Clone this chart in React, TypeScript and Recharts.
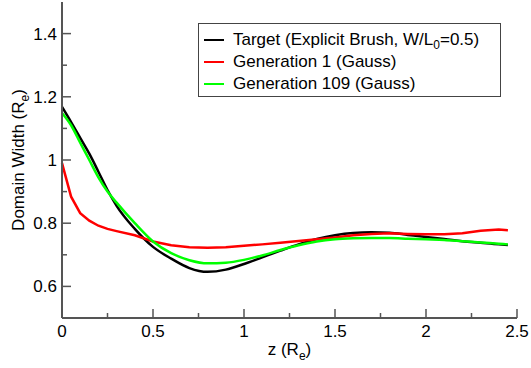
import React from "react";
import { LineChart, Line, XAxis, YAxis } from "recharts";

// domain width profiles along z (R_e)
const Z = [0, 0.05, 0.1, 0.15, 0.2, 0.25, 0.3, 0.4, 0.5, 0.6, 0.7, 0.8, 0.9, 1.0, 1.1, 1.2, 1.3, 1.4, 1.5, 1.6, 1.7, 1.8, 1.9, 2.0, 2.1, 2.2, 2.3, 2.4, 2.45];
const TARGET = [1.168, 1.12, 1.07, 1.02, 0.963, 0.905, 0.855, 0.782, 0.725, 0.688, 0.658, 0.646, 0.653, 0.671, 0.692, 0.713, 0.733, 0.75, 0.762, 0.769, 0.771, 0.77, 0.763, 0.756, 0.75, 0.743, 0.738, 0.733, 0.731];
const GEN1 = [0.99, 0.884, 0.832, 0.808, 0.792, 0.782, 0.775, 0.762, 0.742, 0.73, 0.724, 0.722, 0.724, 0.729, 0.733, 0.738, 0.744, 0.749, 0.755, 0.762, 0.766, 0.768, 0.766, 0.765, 0.765, 0.768, 0.776, 0.78, 0.778];
const GEN109 = [1.149, 1.11, 1.055, 1.0, 0.945, 0.9, 0.865, 0.8, 0.742, 0.705, 0.683, 0.673, 0.675, 0.684, 0.698, 0.715, 0.73, 0.742, 0.749, 0.752, 0.753, 0.753, 0.751, 0.749, 0.747, 0.743, 0.739, 0.735, 0.733];

const X_TICKS = [0, 0.25, 0.5, 0.75, 1, 1.25, 1.5, 1.75, 2, 2.25, 2.5];
const Y_TICKS = [0.6, 0.7, 0.8, 0.9, 1, 1.1, 1.2, 1.3, 1.4];

const LEGEND = [
  { key: "target", color: "#000000" },
  { key: "gen1", color: "#ff0000", label: "Generation 1 (Gauss)" },
  { key: "gen109", color: "#00ff00", label: "Generation 109 (Gauss)" },
];

const data = Z.map((z, i) => ({ z, target: TARGET[i], gen1: GEN1[i], gen109: GEN109[i] }));

// no serif faces in the sandbox, so a sans at a size that keeps the widths
const FONT = '"Liberation Sans", Arial, sans-serif';
const FS = 17;
const FRAME = "#555";

const isMajorX = (v: number) => Math.round(v * 4) % 2 === 0;
const isMajorY = (v: number) => Math.round(v * 10) % 2 === 0;

function BottomTick({ x, y, payload }: any) {
  const major = isMajorX(payload.value);
  return (
    <g>
      <line x1={x} x2={x} y1={y} y2={y - (major ? 9 : 5)} stroke={FRAME} strokeWidth={1.5} />
      {major && (
        <text x={x} y={y + 19} textAnchor="middle" fontFamily={FONT} fontSize={FS} fill="#000">
          {String(payload.value)}
        </text>
      )}
    </g>
  );
}

function TopTick({ x, y, payload }: any) {
  const major = isMajorX(payload.value);
  return <line x1={x} x2={x} y1={y} y2={y + (major ? 9 : 5)} stroke={FRAME} strokeWidth={1.5} />;
}

function LeftTick({ x, y, payload }: any) {
  const major = isMajorY(payload.value);
  return (
    <g>
      <line x1={x} x2={x + (major ? 9 : 5)} y1={y} y2={y} stroke={FRAME} strokeWidth={1.5} />
      {major && (
        <text x={x - 5} y={y + 6} textAnchor="end" fontFamily={FONT} fontSize={FS} fill="#000">
          {String(payload.value)}
        </text>
      )}
    </g>
  );
}

function RightTick({ x, y, payload }: any) {
  const major = isMajorY(payload.value);
  return <line x1={x} x2={x - (major ? 9 : 5)} y1={y} y2={y} stroke={FRAME} strokeWidth={1.5} />;
}

function XTitle({ viewBox }: any) {
  const cx = viewBox.x + viewBox.width / 2;
  return (
    <text x={cx} y={355} textAnchor="middle" fontFamily={FONT} fontSize={FS} fill="#000">
      z (R
      <tspan fontSize={12} dy={5}>e</tspan>
      <tspan dy={-5}>)</tspan>
    </text>
  );
}

function YTitle({ viewBox }: any) {
  const cy = viewBox.y + viewBox.height / 2;
  return (
    <text
      x={24}
      y={cy}
      transform={`rotate(-90 24 ${cy})`}
      textAnchor="middle"
      fontFamily={FONT}
      fontSize={FS}
      fill="#000"
    >
      Domain Width (R
      <tspan fontSize={12} dy={5}>e</tspan>
      <tspan dy={-5}>)</tspan>
    </text>
  );
}

export default function App() {
  return (
    <div style={{ position: "relative", width: 531, height: 368, background: "#fff" }}>
      <style>{`body{margin:0}`}</style>
      <LineChart width={531} height={368} data={data} margin={{ top: 2, right: 14, left: 0, bottom: 0 }}>
        <XAxis
          dataKey="z"
          type="number"
          domain={[0, 2.5]}
          ticks={X_TICKS}
          interval={0}
          height={50}
          tickSize={0}
          tickMargin={0}
          tickLine={false}
          tick={BottomTick}
          axisLine={{ stroke: FRAME, strokeWidth: 2 }}
          label={{ content: XTitle }}
        />
        <XAxis
          xAxisId="top"
          orientation="top"
          dataKey="z"
          type="number"
          domain={[0, 2.5]}
          ticks={X_TICKS}
          interval={0}
          height={0}
          tickSize={0}
          tickMargin={0}
          tickLine={false}
          tick={TopTick}
          axisLine={{ stroke: FRAME, strokeWidth: 2 }}
        />
        <YAxis
          type="number"
          domain={[0.5, 1.5]}
          ticks={Y_TICKS}
          interval={0}
          width={62}
          tickSize={0}
          tickMargin={0}
          tickLine={false}
          tick={LeftTick}
          axisLine={{ stroke: FRAME, strokeWidth: 2 }}
          label={{ content: YTitle }}
        />
        <YAxis
          yAxisId="right"
          orientation="right"
          type="number"
          domain={[0.5, 1.5]}
          ticks={Y_TICKS}
          interval={0}
          width={0}
          tickSize={0}
          tickMargin={0}
          tickLine={false}
          tick={RightTick}
          axisLine={{ stroke: FRAME, strokeWidth: 2 }}
        />
        <Line dataKey="target" type="monotone" stroke="#000000" strokeWidth={2.5} dot={false} isAnimationActive={false} />
        <Line dataKey="gen1" type="linear" stroke="#ff0000" strokeWidth={2.5} dot={false} isAnimationActive={false} />
        <Line dataKey="gen109" type="monotone" stroke="#00ff00" strokeWidth={2.5} dot={false} isAnimationActive={false} />
      </LineChart>
      <div
        style={{
          position: "absolute",
          left: 198,
          top: 23,
          width: 303,
          height: 74,
          border: "1px solid #444",
          background: "#fff",
          fontFamily: FONT,
          fontSize: FS,
          color: "#000",
          boxSizing: "border-box",
          paddingTop: 5,
        }}
      >
        {LEGEND.map((item) => (
          <div key={item.key} style={{ display: "flex", alignItems: "center", height: 22 }}>
            <span style={{ display: "inline-block", width: 20, height: 2.5, background: item.color, marginLeft: 5, marginRight: 9 }} />
            <span style={{ whiteSpace: "nowrap" }}>
              {item.label ?? (
                <>
                  Target (Explicit Brush, W/L<sub style={{ fontSize: 12, lineHeight: 0 }}>0</sub>=0.5)
                </>
              )}
            </span>
          </div>
        ))}
      </div>
    </div>
  );
}
